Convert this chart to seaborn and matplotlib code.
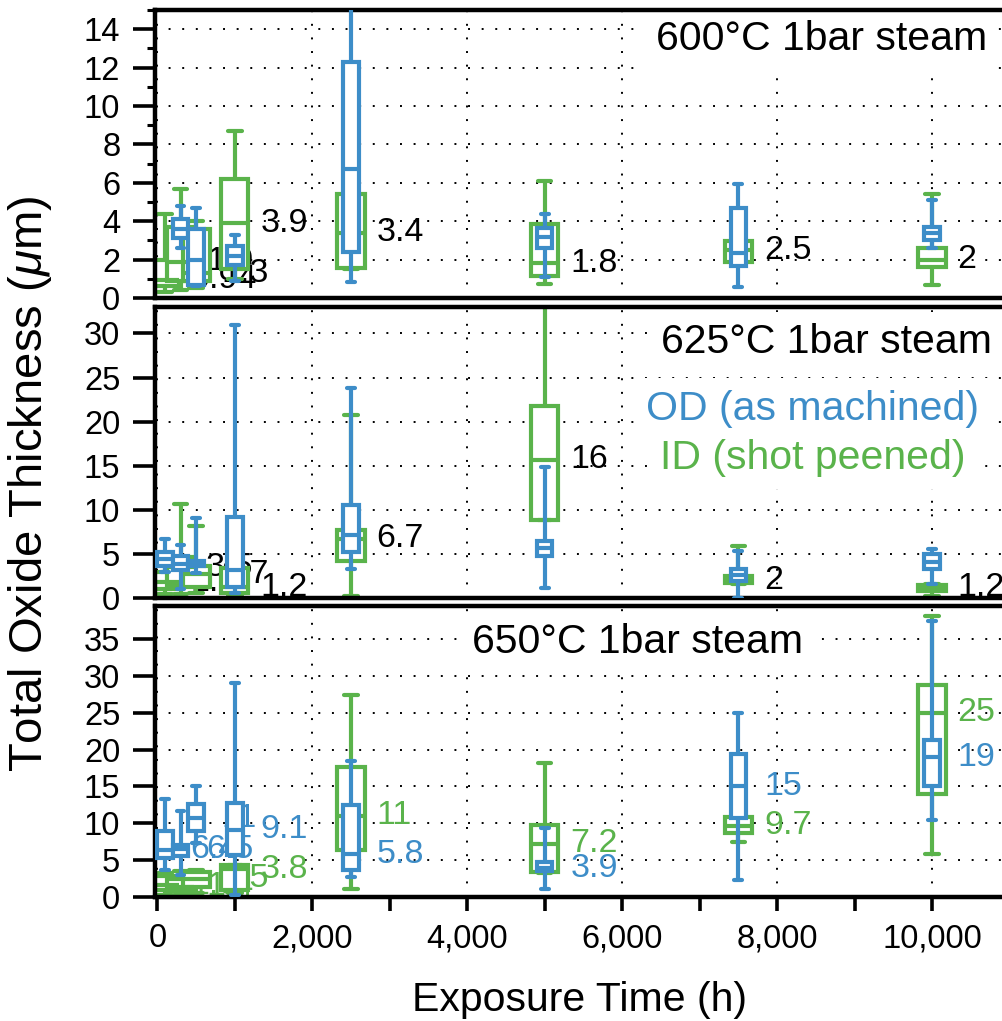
import numpy as np
import pandas as pd
import matplotlib
matplotlib.use("Agg")
import matplotlib.pyplot as plt
import seaborn as sns
from matplotlib.ticker import MultipleLocator, FuncFormatter

# ---------------------------------------------------------------------------
# Oxide thickness statistics, one five-number summary per exposure time:
# [min, q1, median, q3, max]  (micrometres)
# ---------------------------------------------------------------------------
# 600 °C
t600_id = [100, 300, 500, 1000, 2500, 5000, 7500, 10000]
s600_id = [[0.3, 0.6, 0.94, 2.0, 4.4], [0.4, 0.9, 1.9, 3.7, 5.7],
           [0.5, 0.9, 1.3, 3.6, 4.0], [1.0, 1.5, 3.9, 6.2, 8.7],
           [1.5, 1.55, 3.4, 5.4, 5.4], [0.73, 1.14, 1.8, 3.84, 6.08],
           [1.9, 1.9, 2.5, 2.97, 2.97], [0.68, 1.6, 2.0, 2.63, 5.44]]
t600_od = [300, 500, 1000, 2500, 5000, 7500, 10000]
s600_od = [[2.6, 3.1, 3.6, 4.1, 4.8], [0.6, 0.7, 2.0, 3.6, 4.7],
           [0.9, 1.7, 2.2, 2.7, 3.3], [0.85, 2.4, 6.7, 12.3, 17.0],
           [1.1, 2.6, 3.2, 3.65, 4.35], [0.56, 1.65, 2.35, 4.7, 5.96],
           [2.6, 3.0, 3.4, 3.7, 5.1]]

# 625 °C
t625_id = [100, 300, 500, 1000, 2500, 5000, 7500, 10000]
s625_id = [[0.4, 1.0, 1.8, 3.0, 4.2], [0.5, 1.5, 3.5, 4.6, 10.7],
           [0.6, 1.2, 2.7, 3.6, 8.2], [0.3, 0.6, 1.2, 3.4, 3.4],
           [0.2, 4.2, 6.7, 7.7, 20.7], [8.8, 8.85, 15.7, 21.8, 35.0],
           [1.6, 1.7, 2.0, 2.5, 5.9], [0.2, 0.8, 1.2, 1.5, 1.6]]
t625_od = [100, 300, 500, 1000, 2500, 5000, 7500, 10000]
s625_od = [[3.0, 3.6, 4.4, 5.2, 6.7], [1.0, 3.2, 3.9, 4.8, 6.0],
           [2.8, 3.6, 3.9, 4.2, 9.1], [0.6, 1.2, 3.2, 9.15, 31.0],
           [3.3, 5.2, 7.1, 10.6, 23.8], [1.1, 4.8, 5.7, 6.5, 14.9],
           [0.0, 1.9, 2.6, 3.3, 5.3], [1.6, 3.3, 4.1, 5.0, 5.6]]

# 650 °C
t650_id = [100, 300, 500, 1000, 2500, 5000, 7500, 10000]
s650_id = [[0.3, 1.0, 1.6, 2.8, 3.3], [0.3, 0.8, 1.4, 2.4, 3.5],
           [0.5, 1.4, 2.5, 3.4, 3.7], [0.5, 1.0, 3.8, 4.4, 4.4],
           [1.1, 6.4, 11.0, 17.6, 27.4], [3.3, 3.34, 7.2, 9.75, 18.2],
           [7.5, 8.7, 9.7, 10.8, 10.8], [5.9, 14.0, 25.0, 28.8, 38.2]]
t650_od = [100, 300, 500, 1000, 2500, 5000, 7500, 10000]
s650_od = [[3.7, 5.3, 6.4, 8.9, 13.3], [3.0, 5.6, 6.5, 7.0, 11.7],
           [7.3, 8.9, 10.7, 12.6, 15.1], [0.3, 5.7, 9.1, 12.8, 29.1],
           [2.7, 3.7, 5.8, 12.5, 18.5], [1.1, 3.5, 3.9, 4.8, 9.4],
           [2.3, 10.7, 15.0, 19.35, 25.0], [10.5, 15.1, 19.0, 21.3, 37.4]]

panel_titles = ["600°C 1bar steam", "625°C 1bar steam", "650°C 1bar steam"]
legend_od = "OD (as machined)"
legend_id = "ID (shot peened)"
x_label = "Exposure Time (h)"
y_label = r"Total Oxide Thickness ($\mu$m)"

BLUE = "#3D8DC8"
GREEN = "#5AB34B"

sns.set_theme(style="white")
plt.rcParams.update({
    "font.family": ["Liberation Sans", "DejaVu Sans"],
    "mathtext.fontset": "custom",
    "mathtext.rm": "Liberation Sans",
    "mathtext.it": "Liberation Sans:italic",
    "axes.edgecolor": "black",
    "axes.linewidth": 3.0,
    "xtick.color": "black",
    "ytick.color": "black",
    "text.color": "black",
})

W_PX, H_PX = 1003, 1021
fig = plt.figure(figsize=(W_PX / 100, H_PX / 100), dpi=100)

left_px, right_px = 155, 1009.5
rows_px = [(10, 298), (307, 598), (606, 897)]
axes = [fig.add_axes([left_px / W_PX, 1 - b / H_PX,
                      (right_px - left_px) / W_PX, (b - t) / H_PX])
        for t, b in rows_px]


def draw_series(ax, times, boxes, color, width_h, z):
    df = pd.DataFrame({"time": np.repeat(times, 5),
                       "thickness": np.concatenate(boxes)})
    step = np.min(np.diff(np.unique(times)))
    sns.boxplot(data=df, x="time", y="thickness", native_scale=True,
                width=width_h / step, color="white", linecolor=color,
                linewidth=3.0, whis=(0, 100), saturation=1, fliersize=0,
                ax=ax, zorder=z)


def label_medians(ax, times, boxes, color):
    for t, b in zip(times, boxes):
        med = b[2]
        ax.text(t + 330, med, f"{med:.2g}", color=color, fontsize=24.5,
                ha="left", va="center", clip_on=True, zorder=1.5)


panels = [
    (t600_id, s600_id, t600_od, s600_od, (0, 15), 2, 1, "id"),
    (t625_id, s625_id, t625_od, s625_od, (0, 33), 5, None, "id"),
    (t650_id, s650_id, t650_od, s650_od, (0, 39.5), 5, None, "both"),
]

for ax, (tid, sid, tod, sod, ylim, ymaj, ymin, lab) in zip(axes, panels):
    draw_series(ax, tid, sid, GREEN, 350, 2)
    draw_series(ax, tod, sod, BLUE, 200, 3)
    if lab == "id":
        label_medians(ax, tid, sid, "black")
    else:
        label_medians(ax, tid, sid, GREEN)
        label_medians(ax, tod, sod, BLUE)

    ax.set_xlim(-30, 11000)
    ax.set_ylim(*ylim)
    ax.set_xlabel("")
    ax.set_ylabel("")
    ax.xaxis.set_major_locator(MultipleLocator(2000))
    ax.xaxis.set_minor_locator(MultipleLocator(1000))
    ax.xaxis.set_major_formatter(FuncFormatter(lambda v, p: f"{v:,.0f}"))
    ax.yaxis.set_major_locator(MultipleLocator(ymaj))
    if ymin:
        ax.yaxis.set_minor_locator(MultipleLocator(ymin))
    ax.set_axisbelow(True)
    ax.grid(True, which="major", color="black",
            linestyle=(0, (1, 6)), linewidth=1.4)
    ax.tick_params(axis="y", which="major", direction="out", length=16,
                   width=2.6, labelsize=23.5, pad=9, left=True)
    ax.tick_params(axis="y", which="minor", direction="out", length=6,
                   width=2.2, left=True)
    for s in ax.spines.values():
        s.set_linewidth(3.2)
        s.set_color("black")

for ax in axes[:2]:
    ax.tick_params(axis="x", which="both", length=0, labelbottom=False)
axes[2].tick_params(axis="x", which="both", direction="out", length=10,
                    width=2.6, labelsize=23.5, pad=9, bottom=True)

box_kw = dict(boxstyle="square,pad=0.28", facecolor="white", edgecolor="none")
big = 29.5
axes[0].text(0.9737, 0.861, panel_titles[0], transform=axes[0].transAxes,
             ha="right", va="baseline", fontsize=big, bbox=box_kw, zorder=2.4)
axes[1].text(0.9795, 0.842, panel_titles[1], transform=axes[1].transAxes,
             ha="right", va="baseline", fontsize=big, bbox=box_kw, zorder=2.4)
axes[1].text(0.770, 0.612, legend_od, transform=axes[1].transAxes,
             ha="center", va="baseline", fontsize=big, color=BLUE,
             bbox=box_kw, zorder=2.4)
axes[1].text(0.770, 0.443, legend_id, transform=axes[1].transAxes,
             ha="center", va="baseline", fontsize=big, color=GREEN,
             bbox=box_kw, zorder=2.4)
axes[2].text(0.565, 0.838, panel_titles[2], transform=axes[2].transAxes,
             ha="center", va="baseline", fontsize=big, bbox=box_kw, zorder=2.4)

fig.text(580 / W_PX, 1 - 1000 / H_PX, x_label, ha="center", va="center",
         fontsize=big)
fig.text(30 / W_PX, 1 - 484 / H_PX, y_label, ha="center", va="center",
         rotation=90, fontsize=34)

fig.savefig("out.png", dpi=100)
